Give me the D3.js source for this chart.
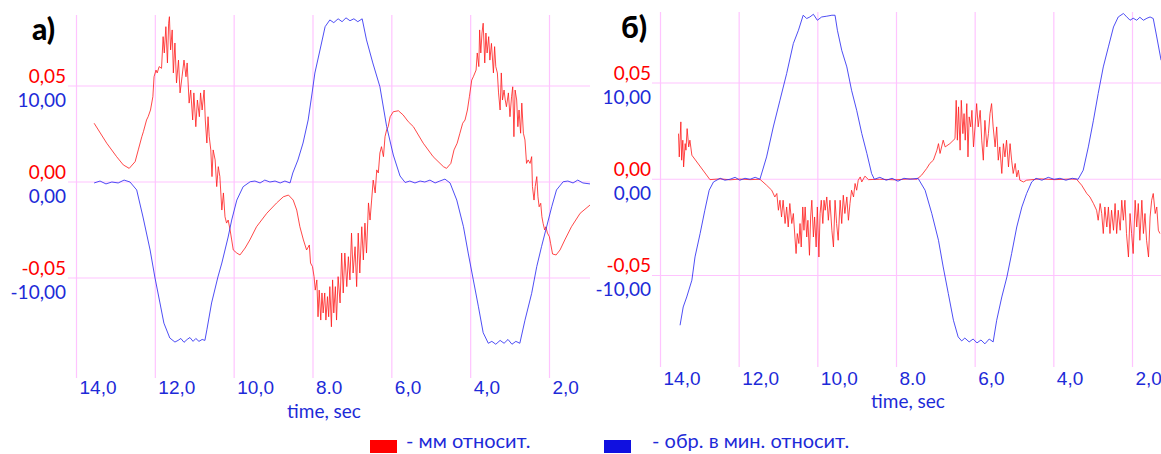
<!DOCTYPE html>
<html><head><meta charset="utf-8">
<script src="https://cdn.jsdelivr.net/npm/d3@7"></script>
<style>
html,body{margin:0;padding:0;background:#fff;}
svg{display:block;font-family:Lato,"Open Sans",sans-serif;}
</style></head>
<body>
<svg id="chart" width="1161" height="454"></svg>
<script>
// ---------- data ----------
const timeTicks = [14, 12, 10, 8, 6, 4, 2];
const timeTickLabels = ["14,0", "12,0", "10,0", "8.0", "6,0", "4,0", "2,0"];
const redTicks = [0.05, 0, -0.05];
const redTickLabels = ["0,05", "0,00", "-0,05"];
const blueTicks = [10, 0, -10];
const blueTickLabels = ["10,00", "0,00", "-10,00"];
const panelTitles = ["а)", "б)"];
const axisTitle = "time, sec";
const legendLabels = ["- мм относит.", "- обр. в мин. относит."];

// panel a) red: мм относит.
const aRedTime = [13.54,13.22,12.97,12.80,12.65,12.50,12.42,12.33,12.29,12.21,12.17,12.11,12.05,12.02,11.97,11.94,11.89,11.83,11.79,11.76,11.72,11.68,11.65,11.63,11.60,11.56,11.53,11.49,11.45,11.40,11.36,11.31,11.26,11.21,11.18,11.13,11.09,11.04,11.01,10.96,10.92,10.87,10.84,10.80,10.75,10.72,10.68,10.65,10.62,10.58,10.55,10.52,10.47,10.43,10.39,10.35,10.30,10.26,10.22,10.18,10.14,10.09,10.05,10.01,9.92,9.84,9.71,9.59,9.42,9.16,8.91,8.74,8.61,8.49,8.40,8.32,8.23,8.15,8.08,8.05,8.00,7.96,7.93,7.89,7.86,7.83,7.79,7.76,7.73,7.69,7.66,7.62,7.59,7.56,7.52,7.49,7.46,7.42,7.39,7.35,7.30,7.26,7.22,7.18,7.13,7.09,7.05,7.01,6.97,6.92,6.88,6.84,6.80,6.75,6.71,6.67,6.63,6.58,6.54,6.50,6.46,6.41,6.37,6.33,6.29,6.25,6.20,6.16,6.12,6.08,6.03,5.95,5.82,5.70,5.57,5.44,5.19,4.94,4.68,4.60,4.49,4.41,4.33,4.26,4.19,4.13,4.07,4.02,3.96,3.92,3.85,3.82,3.78,3.76,3.73,3.70,3.67,3.63,3.60,3.57,3.53,3.50,3.46,3.41,3.38,3.35,3.31,3.28,3.24,3.21,3.18,3.14,3.11,3.08,3.03,2.99,2.95,2.92,2.89,2.86,2.82,2.79,2.76,2.72,2.69,2.65,2.61,2.57,2.53,2.48,2.44,2.42,2.38,2.35,2.31,2.28,2.25,2.21,2.18,2.15,2.11,2.08,2.04,1.99,1.96,1.91,1.82,1.72,1.60,1.43,1.21,0.96];
const aRedValue = [0.0306,0.0202,0.0132,0.0089,0.0071,0.0106,0.0167,0.0236,0.0262,0.0323,0.0340,0.0375,0.0444,0.0548,0.0583,0.0568,0.0601,0.0592,0.0757,0.0672,0.0809,0.0620,0.0827,0.0861,0.0688,0.0792,0.0568,0.0724,0.0516,0.0635,0.0464,0.0548,0.0635,0.0548,0.0620,0.0411,0.0479,0.0323,0.0464,0.0288,0.0427,0.0340,0.0464,0.0375,0.0479,0.0323,0.0203,0.0340,0.0236,0.0167,0.0028,0.0167,0.0115,-0.0024,0.0080,0.0028,-0.0146,-0.0057,-0.0181,-0.0214,-0.0198,-0.0250,-0.0302,-0.0354,-0.0370,-0.0380,-0.0344,-0.0302,-0.0233,-0.0163,-0.0109,-0.0077,-0.0068,-0.0094,-0.0146,-0.0233,-0.0302,-0.0354,-0.0328,-0.0422,-0.0441,-0.0493,-0.0563,-0.0510,-0.0702,-0.0563,-0.0719,-0.0578,-0.0682,-0.0578,-0.0719,-0.0597,-0.0702,-0.0545,-0.0754,-0.0510,-0.0682,-0.0545,-0.0719,-0.0493,-0.0630,-0.0370,-0.0578,-0.0370,-0.0545,-0.0389,-0.0510,-0.0266,-0.0474,-0.0337,-0.0545,-0.0266,-0.0474,-0.0233,-0.0406,-0.0214,-0.0370,-0.0109,-0.0198,-0.0094,0.0010,-0.0057,0.0063,0.0047,0.0151,0.0184,0.0132,0.0236,0.0271,0.0288,0.0340,0.0366,0.0371,0.0349,0.0314,0.0288,0.0202,0.0132,0.0080,0.0071,0.0097,0.0167,0.0202,0.0254,0.0306,0.0323,0.0375,0.0444,0.0531,0.0548,0.0583,0.0672,0.0601,0.0792,0.0672,0.0776,0.0827,0.0620,0.0776,0.0672,0.0757,0.0635,0.0722,0.0568,0.0705,0.0601,0.0568,0.0464,0.0375,0.0568,0.0427,0.0479,0.0427,0.0392,0.0464,0.0340,0.0444,0.0496,0.0236,0.0479,0.0427,0.0288,0.0375,0.0254,0.0411,0.0254,0.0219,0.0097,0.0115,0.0097,0.0132,-0.0024,-0.0094,-0.0024,0.0028,-0.0077,-0.0129,-0.0111,-0.0181,-0.0215,-0.0250,-0.0233,-0.0266,-0.0285,-0.0319,-0.0375,-0.0380,-0.0354,-0.0302,-0.0233,-0.0163,-0.0120];

// panel a) blue: обр. в мин. относит.
const aBlueTime = [13.54,13.39,13.24,13.09,12.93,12.78,12.63,12.46,12.30,12.12,12.00,11.87,11.77,11.62,11.49,11.41,11.34,11.26,11.18,11.11,11.03,10.96,10.88,10.80,10.73,10.68,10.56,10.40,10.30,10.14,10.05,9.92,9.76,9.58,9.46,9.33,9.21,9.08,8.95,8.82,8.70,8.57,8.50,8.37,8.24,8.11,8.01,7.94,7.81,7.68,7.56,7.46,7.35,7.25,7.15,7.05,6.95,6.85,6.74,6.63,6.47,6.29,6.12,5.95,5.78,5.65,5.53,5.40,5.27,5.15,5.02,4.89,4.77,4.64,4.51,4.34,4.17,4.05,3.92,3.79,3.67,3.54,3.45,3.35,3.24,3.14,3.04,2.94,2.84,2.74,2.61,2.44,2.31,2.19,2.06,1.93,1.81,1.64,1.52,1.39,1.27,1.14,0.96];
const aBlueValue = [-0.1,0.1,-0.2,0.0,-0.1,0.2,0.0,-0.83,-3.65,-7.08,-9.9,-12.6,-14.7,-16.25,-16.67,-16.5,-16.3,-16.7,-16.4,-16.2,-16.6,-16.3,-16.6,-16.4,-16.5,-15.4,-12.6,-9.9,-8.44,-5.73,-3.96,-1.88,-0.49,0.03,0.1,-0.1,0.2,0.0,0.1,-0.1,0.1,-0.1,0.94,2.29,4.06,6.46,9.27,11.35,13.75,16.18,16.88,16.6,17.0,16.7,17.1,16.8,17.0,16.7,17.0,14.8,12.4,9.93,5.8,2.81,0.63,-0.05,0.1,-0.1,0.1,0.0,0.2,-0.1,0.1,0.3,-0.1,-1.88,-4.66,-7.4,-10.2,-13.0,-15.7,-16.8,-16.6,-16.9,-16.5,-16.8,-16.4,-16.9,-16.6,-16.8,-14.4,-11.6,-8.8,-6.74,-4.66,-2.57,-0.83,0.03,0.1,-0.1,0.2,-0.1,-0.2];

// panel б) red
const bRedTime = [13.53,13.51,13.47,13.45,13.42,13.40,13.36,13.34,13.31,13.27,13.24,13.19,12.73,12.47,12.22,11.97,11.71,11.46,11.29,11.16,11.08,11.03,10.99,10.95,10.91,10.87,10.82,10.78,10.74,10.70,10.65,10.61,10.57,10.54,10.51,10.47,10.44,10.41,10.37,10.34,10.31,10.27,10.24,10.20,10.17,10.14,10.10,10.07,10.03,10.00,9.96,9.93,9.90,9.86,9.83,9.80,9.76,9.72,9.68,9.63,9.59,9.55,9.51,9.47,9.42,9.38,9.34,9.30,9.25,9.21,9.17,9.13,9.08,9.04,9.00,8.96,8.91,8.87,8.79,8.70,8.41,8.02,7.64,7.47,7.35,7.22,7.14,7.05,6.96,6.92,6.88,6.80,6.75,6.63,6.50,6.47,6.44,6.41,6.37,6.34,6.30,6.27,6.24,6.20,6.17,6.14,6.10,6.07,6.03,5.99,5.95,5.91,5.86,5.82,5.78,5.74,5.69,5.65,5.61,5.57,5.53,5.48,5.44,5.40,5.36,5.31,5.27,5.23,5.19,5.14,5.10,5.06,5.02,4.97,4.93,4.89,4.85,4.76,4.68,4.34,3.96,3.58,3.41,3.28,3.15,3.07,2.98,2.90,2.86,2.81,2.77,2.73,2.69,2.64,2.60,2.56,2.52,2.47,2.43,2.39,2.35,2.30,2.26,2.22,2.18,2.14,2.09,2.05,2.01,1.97,1.92,1.88,1.84,1.80,1.75,1.71,1.67,1.63,1.58,1.54,1.50,1.46,1.41,1.37,1.33,1.29];
const bRedValue = [0.0237,0.0116,0.0298,0.0099,0.0203,0.0064,0.0185,0.0151,0.0263,0.0168,0.0203,0.0125,-0.0002,0.0002,-0.0003,0.0001,-0.0002,0.0,-0.0031,-0.0057,-0.0092,-0.0074,-0.0161,-0.0109,-0.0196,-0.0109,-0.0230,-0.0144,-0.0248,-0.0126,-0.0230,-0.0178,-0.0300,-0.0386,-0.0282,-0.0334,-0.0230,-0.0352,-0.0144,-0.0265,-0.0144,-0.0300,-0.0213,-0.0395,-0.0196,-0.0109,-0.0300,-0.0196,-0.0352,-0.0144,-0.0404,-0.0178,-0.0109,-0.0230,-0.0109,-0.0161,-0.0092,-0.0213,-0.0109,-0.0265,-0.0352,-0.0109,-0.0230,-0.0317,-0.0109,-0.0230,-0.0083,-0.0178,-0.0092,-0.0213,-0.0126,-0.0057,-0.0092,-0.0022,-0.0057,-0.0005,0.0012,-0.0014,0.0016,-0.0002,0.0,-0.0003,0.0002,0.0,0.0021,0.0056,0.0082,0.0099,0.0151,0.0185,0.0134,0.0203,0.0168,0.0185,0.0211,0.0410,0.0203,0.0376,0.0151,0.0410,0.0237,0.0341,0.0203,0.0393,0.0116,0.0324,0.0272,0.0358,0.0168,0.0272,0.0393,0.0272,0.0358,0.0203,0.0099,0.0306,0.0168,0.0237,0.0341,0.0393,0.0272,0.0168,0.0272,0.0099,0.0168,0.0030,0.0185,0.0116,0.0203,0.0064,0.0185,0.0099,0.0030,0.0082,0.0012,0.0047,-0.0005,-0.0014,-0.0005,0.0002,-0.0002,0.0001,0.0,-0.0031,-0.0074,-0.0092,-0.0126,-0.0161,-0.0213,-0.0126,-0.0178,-0.0282,-0.0144,-0.0248,-0.0144,-0.0282,-0.0161,-0.0265,-0.0126,-0.0282,-0.0161,-0.0265,-0.0109,-0.0213,-0.0109,-0.0282,-0.0404,-0.0178,-0.0282,-0.0386,-0.0109,-0.0248,-0.0126,-0.0317,-0.0109,-0.0282,-0.0178,-0.0317,-0.0404,-0.0196,-0.0109,-0.0074,-0.0178,-0.0144,-0.0265,-0.0282];

// panel б) blue
const bBlueTime = [13.49,13.41,13.32,13.19,13.11,12.98,12.86,12.75,12.64,12.47,12.35,12.22,12.09,11.97,11.84,11.71,11.58,11.46,11.29,11.12,10.95,10.78,10.61,10.48,10.36,10.27,10.19,10.10,10.00,9.89,9.76,9.63,9.55,9.49,9.38,9.25,9.13,9.00,8.87,8.74,8.62,8.55,8.41,8.25,8.10,7.95,7.80,7.64,7.44,7.26,7.09,6.92,6.80,6.67,6.54,6.42,6.33,6.25,6.14,6.04,5.94,5.84,5.74,5.63,5.53,5.44,5.31,5.18,5.06,4.93,4.80,4.68,4.55,4.44,4.29,4.13,3.98,3.83,3.68,3.52,3.37,3.24,3.11,2.98,2.86,2.73,2.60,2.47,2.35,2.22,2.15,2.05,1.97,1.88,1.80,1.71,1.62,1.54,1.46,1.37,1.26];
const bBlueValue = [-15.17,-13.27,-12.23,-10.49,-8.07,-5.64,-3.22,-1.14,-0.28,0.1,-0.1,0.0,0.2,-0.1,0.1,0.0,0.2,0.0,2.32,5.43,8.21,10.98,14.1,15.48,17.04,16.7,16.86,17.14,16.52,16.86,16.94,17.04,17.04,15.48,13.4,11.67,9.25,7.17,4.75,2.67,0.59,0.0,0.2,-0.1,0.1,-0.2,0.1,0.0,0.1,-1.14,-3.56,-6.34,-9.11,-11.88,-14.65,-16.38,-16.8,-16.5,-16.9,-16.6,-17.0,-16.7,-17.1,-16.6,-16.9,-14.65,-12.23,-10.15,-7.72,-4.96,-2.88,-1.49,-0.28,0.1,-0.1,0.2,0.0,0.1,-0.1,0.1,0.0,0.94,3.36,6.13,8.9,11.67,13.75,15.82,16.86,17.22,16.94,16.52,16.73,16.52,16.83,16.52,16.73,16.86,16.7,14.78,12.36];

// ---------- drawing ----------
const svg = d3.select("#chart");
const COL = {
  red: "#ff0000", redLine: "#ff1a1a", blueLine: "#2f2ff2",
  blueText: "#1d2ad8", grid: "#ffc4ff", title: "#000"
};

const panels = [
  {title: panelTitles[0], titleX: 32, titleY: 40,
   x0: 76, x1: 549, yTop: 86, yBot: 278,
   hgX0: 68, hgX1: 590, vgTop: 15, vgBot: 378, labelRight: 66,
   tickY: 387, axisTitleX: 324, axisTitleY: 411,
   red: [aRedTime, aRedValue], blue: [aBlueTime, aBlueValue]},
  {title: panelTitles[1], titleX: 621, titleY: 38,
   x0: 660, x1: 1132, yTop: 83, yBot: 275.5,
   hgX0: 652, hgX1: 1161, vgTop: 12, vgBot: 367, labelRight: 651,
   tickY: 378, axisTitleX: 908, axisTitleY: 401,
   red: [bRedTime, bRedValue], blue: [bBlueTime, bBlueValue]}
];

panels.forEach(p => {
  const x = d3.scaleLinear().domain([14, 2]).range([p.x0, p.x1]);
  const yRed = d3.scaleLinear().domain([0.05, -0.05]).range([p.yTop, p.yBot]);
  const yBlue = d3.scaleLinear().domain([10, -10]).range([p.yTop, p.yBot]);
  const g = svg.append("g");

  // vertical grid via axis
  const xAxis = d3.axisBottom(x).tickValues(timeTicks)
    .tickSize(-(p.vgBot - p.vgTop)).tickPadding(0)
    .tickFormat((d, i) => timeTickLabels[i]);
  const ax = g.append("g").attr("transform", `translate(0,${p.vgBot})`).call(xAxis);
  ax.select(".domain").remove();
  ax.selectAll(".tick line").attr("stroke", COL.grid).attr("stroke-width", 1.2);
  ax.selectAll(".tick text")
    .attr("fill", COL.blueText).attr("font-size", 19)
    .attr("text-anchor", "start").attr("x", 3)
    .attr("y", p.tickY - p.vgBot).attr("dy", "0.35em");

  // horizontal grid
  g.selectAll(".hg").data(redTicks).enter().append("line")
    .attr("x1", p.hgX0).attr("x2", p.hgX1)
    .attr("y1", d => yRed(d)).attr("y2", d => yRed(d))
    .attr("stroke", COL.grid).attr("stroke-width", 1.2);

  // y labels
  g.selectAll(".rl").data(redTicks).enter().append("text")
    .attr("x", p.labelRight).attr("y", d => yRed(d) - 10)
    .attr("dy", "0.35em").attr("text-anchor", "end")
    .attr("fill", COL.red).attr("font-size", 19)
    .text((d, i) => redTickLabels[i]);
  g.selectAll(".bl").data(blueTicks).enter().append("text")
    .attr("x", p.labelRight).attr("y", d => yBlue(d) + 14)
    .attr("dy", "0.35em").attr("text-anchor", "end")
    .attr("fill", COL.blueText).attr("font-size", 19)
    .text((d, i) => blueTickLabels[i]);

  // axis title
  g.append("text").attr("x", p.axisTitleX).attr("y", p.axisTitleY)
    .attr("dy", "0.35em").attr("text-anchor", "middle")
    .attr("fill", COL.blueText).attr("font-size", 19).text(axisTitle);

  // panel title
  g.append("text").attr("x", p.titleX).attr("y", p.titleY)
    .attr("fill", COL.title).attr("font-size", 30).attr("font-weight", 900)
    .text(p.title);

  // series
  const redPts = p.red[0].map((t, i) => [t, p.red[1][i]]);
  const bluePts = p.blue[0].map((t, i) => [t, p.blue[1][i]]);
  g.append("path").datum(redPts)
    .attr("d", d3.line().x(d => x(d[0])).y(d => yRed(d[1])))
    .attr("fill", "none").attr("stroke", COL.redLine).attr("stroke-width", 1)
    .attr("stroke-opacity", 0.8).attr("stroke-linejoin", "round");
  g.append("path").datum(bluePts)
    .attr("d", d3.line().x(d => x(d[0])).y(d => yBlue(d[1])))
    .attr("fill", "none").attr("stroke", COL.blueLine).attr("stroke-width", 1)
    .attr("stroke-opacity", 0.85).attr("stroke-linejoin", "round");
});

// legend
const legend = svg.append("g");
const legendItems = [
  {color: "#ff0000", rectX: 370, textX: 406},
  {color: "#1010e0", rectX: 604, textX: 652}
];
legendItems.forEach((d, i) => {
  legend.append("rect").attr("x", d.rectX).attr("y", 440).attr("width", 27).attr("height", 13)
    .attr("fill", d.color);
  legend.append("text").attr("x", d.textX).attr("y", 441).attr("dy", "0.35em")
    .attr("fill", COL.blueText).attr("font-size", 20).text(legendLabels[i]);
});
</script>
</body></html>
